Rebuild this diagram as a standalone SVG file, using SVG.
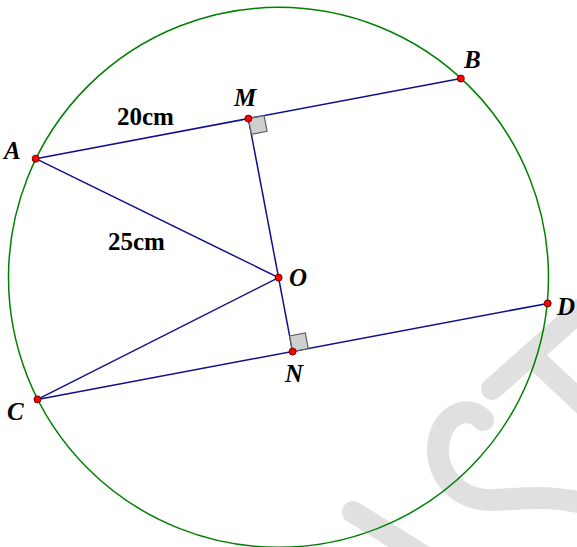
<svg xmlns="http://www.w3.org/2000/svg" width="577" height="547" viewBox="0 0 577 547">
<style>
.wm{fill:none;stroke:#e0e0e0;stroke-width:22;stroke-linecap:round;stroke-linejoin:round}
.seg{stroke:#10108a;stroke-width:1.5;fill:none}
.ra{fill:#cfcfcf;stroke:#606060;stroke-width:1.2}
.pt{fill:#ff0000;stroke:#700000;stroke-width:1}
.lbl{font-family:"Liberation Serif","Times New Roman",serif;font-weight:bold;font-style:italic;font-size:25px;fill:#000}
.len{font-family:"Liberation Serif","Times New Roman",serif;font-weight:bold;font-size:25px;fill:#000}
</style>
<rect width="577" height="547" fill="#ffffff"/>
<g id="watermark">
<path class="wm" d="M492,389 L590,302"/>
<path class="wm" d="M536,360 L600,420"/>
<path class="wm" d="M483,420 C470,405 445,412 439,440 C433,470 455,502 495,500 C530,498 555,495 590,505"/>
<path class="wm" d="M353,512 L430,560"/>
</g>
<g id="circle">
<circle cx="278.5" cy="277.3" r="270" fill="none" stroke="#008000" stroke-width="1.5"/>
</g>
<g id="connectors">
<line class="seg" x1="35.7" y1="158.7" x2="460.8" y2="78.5"/>
<line class="seg" x1="37.5" y1="399.4" x2="547.7" y2="303.4"/>
<line class="seg" x1="248.4" y1="118.6" x2="292.6" y2="351.6"/>
<line class="seg" x1="35.7" y1="158.7" x2="278.6" y2="277.6"/>
<line class="seg" x1="37.5" y1="399.4" x2="278.6" y2="277.6"/>
</g>
<g id="right-angles">
<polygon class="ra" points="248.4,118.6 264.1,115.6 267.1,131.3 251.4,134.3"/>
<polygon class="ra" points="292.6,351.6 308.3,348.6 305.3,332.9 289.6,335.9"/>
</g>
<g id="node-A"><circle class="pt" cx="35.7" cy="158.7" r="3.5"/><text class="lbl" x="4" y="159">A</text></g>
<g id="node-B"><circle class="pt" cx="460.8" cy="78.5" r="3.5"/><text class="lbl" x="464" y="68">B</text></g>
<g id="node-M"><circle class="pt" cx="248.4" cy="118.6" r="3.5"/><text class="lbl" x="234" y="106">M</text></g>
<g id="node-O"><circle class="pt" cx="278.6" cy="277.6" r="3.5"/><text class="lbl" x="289" y="286">O</text></g>
<g id="node-N"><circle class="pt" cx="292.6" cy="351.6" r="3.5"/><text class="lbl" x="285" y="382">N</text></g>
<g id="node-C"><circle class="pt" cx="37.5" cy="399.4" r="3.5"/><text class="lbl" x="7" y="420">C</text></g>
<g id="node-D"><circle class="pt" cx="547.7" cy="303.4" r="3.5"/><text class="lbl" x="557" y="315">D</text></g>
<g id="labels">
<text class="len" x="117" y="125">20cm</text>
<text class="len" x="108" y="250">25cm</text>
</g>
</svg>
